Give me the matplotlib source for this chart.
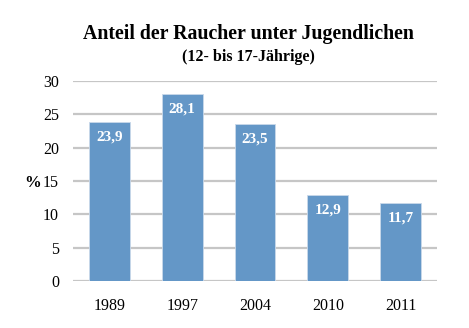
import matplotlib.pyplot as plt

years = ["1989", "1997", "2004", "2010", "2011"]
values = [23.9, 28.1, 23.5, 12.9, 11.7]
labels = ["23,9", "28,1", "23,5", "12,9", "11,7"]

plt.rcParams["font.family"] = ["Liberation Serif", "DejaVu Serif"]

fig = plt.figure(figsize=(4.69, 3.28), dpi=100)
ax = fig.add_axes([0.1557, 0.1433, 0.776, 0.6097])

bars = ax.bar(range(len(years)), values, width=0.56, color="#6497c7",
              edgecolor="#c9d9ea", linewidth=0.6, zorder=3)
for b, lab in zip(bars, labels):
    ax.text(b.get_x() + b.get_width() / 2, b.get_height() - 1.3, lab,
            ha="center", va="top", color="white", fontsize=11,
            fontweight="bold", zorder=4)

ax.set_xlim(-0.5, 4.5)
ax.set_ylim(0, 30)
ax.set_yticks(range(0, 31, 5))
ax.set_xticks(range(len(years)))
ax.set_xticklabels(years)
ax.yaxis.grid(True, color="#c6c6c6", linewidth=1.6, zorder=0)
for s in ax.spines.values():
    s.set_visible(False)
ax.tick_params(axis="both", length=0, labelsize=11.5)
ax.tick_params(axis="x", pad=12)
ax.tick_params(axis="y", pad=10)
ax.set_ylabel("%", rotation=0, fontsize=12, fontweight="bold", va="center")
ax.yaxis.set_label_coords(-0.11, 0.49)

fig.text(0.53, 0.895, "Anteil der Raucher unter Jugendlichen", ha="center",
         va="center", fontsize=14.3, fontweight="bold")
fig.text(0.53, 0.826, "(12- bis 17-Jährige)", ha="center", va="center",
         fontsize=11.5, fontweight="bold")

fig.savefig("out.png", dpi=100)
